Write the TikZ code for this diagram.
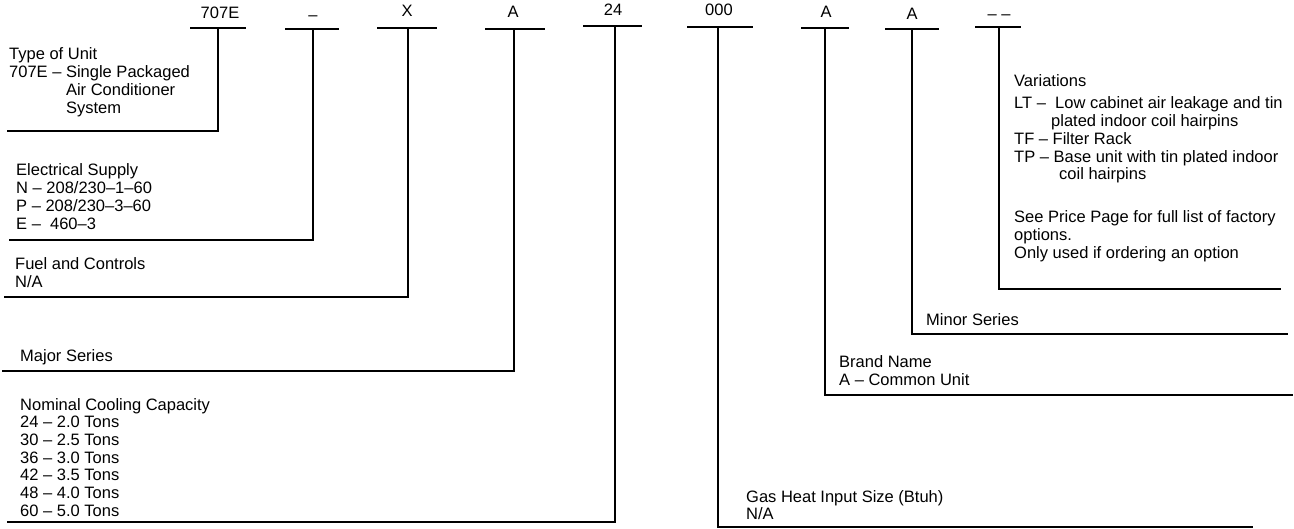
\documentclass[tikz,border=0pt]{standalone}
\usepackage{fontspec}
\setmainfont{Liberation Sans}
\usetikzlibrary{positioning}
\newcommand{\notelines}[1]{\begin{tabular}[t]{@{}l@{}}#1\end{tabular}}

\begin{document}
\begin{tikzpicture}[x=1pt, y=-1pt,
      code/.style={anchor=base, inner sep=0pt, font=\fontsize{16.5}{17.7}\selectfont},
      note/.style={anchor=base west, inner sep=0pt, font=\fontsize{16.5}{17.7}\selectfont},
      codebar/.style={line width=2.6pt},
      lead/.style={line width=2.4pt, line join=miter}]
      \useasboundingbox (0,0) rectangle (1294,529);
      % Type of unit: 707E
      \node[code] (c707) at (220,19) {707E};
      \draw[codebar] (190,28) -- (246,28);
      \coordinate (b707) at (218,28);
      \coordinate (k707) at (218,131);
      \coordinate (e707) at (7,131);
      \draw[lead] (b707) -- (k707) -- (e707);
      \node[note] (n707) at (9,60) {\notelines{Type of Unit\\
         707E – Single Packaged\\
         \phantom{707E – }Air Conditioner\\
         \phantom{707E – }System}};
      % Electrical supply: dash
      \node[code] (celec) at (313,21) {–};
      \draw[codebar] (285,29) -- (339,29);
      \coordinate (belec) at (313,29);
      \coordinate (kelec) at (313,240);
      \coordinate (eelec) at (9,240);
      \draw[lead] (belec) -- (kelec) -- (eelec);
      \node[note] (nelec) at (16,176) {\notelines{Electrical Supply\\
         N – 208/230–1–60\\
         P – 208/230–3–60\\
         E –\ \ 460–3}};
      % Fuel and controls: X
      \node[code] (cfuel) at (407,17) {X};
      \draw[codebar] (377,28) -- (437,28);
      \coordinate (bfuel) at (408,28);
      \coordinate (kfuel) at (408,297);
      \coordinate (efuel) at (4,297);
      \draw[lead] (bfuel) -- (kfuel) -- (efuel);
      \node[note] (nfuel) at (15,270) {\notelines{Fuel and Controls\\ N/A}};
      % Major series: A
      \node[code] (cmaj) at (513,18) {A};
      \draw[codebar] (485,29) -- (545,29);
      \coordinate (bmaj) at (514,29);
      \coordinate (kmaj) at (514,371);
      \coordinate (emaj) at (2,371);
      \draw[lead] (bmaj) -- (kmaj) -- (emaj);
      \node[note] (nmaj) at (20,362) {Major Series};
      % Nominal cooling capacity: 24
      \node[code] (ccap) at (613,16) {24};
      \draw[codebar] (583,26) -- (642,26);
      \coordinate (bcap) at (615,26);
      \coordinate (kcap) at (615,522);
      \coordinate (ecap) at (7,522);
      \draw[lead] (bcap) -- (kcap) -- (ecap);
      \node[note] (ncap) at (20,410) {\notelines{Nominal Cooling Capacity\\
         24 – 2.0 Tons\\ 30 – 2.5 Tons\\ 36 – 3.0 Tons\\
         42 – 3.5 Tons\\ 48 – 4.0 Tons\\ 60 – 5.0 Tons}};
      % Gas heat input size: 000
      \node[code] (cgas) at (719,16) {000};
      \draw[codebar] (687,27) -- (753,27);
      \coordinate (bgas) at (718,27);
      \coordinate (kgas) at (718,527);
      \coordinate (egas) at (1253,527);
      \draw[lead] (bgas) -- (kgas) -- (egas);
      \node[note] (ngas) at (746,502) {\notelines{Gas Heat Input Size (Btuh)\\ N/A}};
      % Brand name: A
      \node[code] (cbrand) at (826,18) {A};
      \draw[codebar] (801,28) -- (849,28);
      \coordinate (bbrand) at (825,28);
      \coordinate (kbrand) at (825,395);
      \coordinate (ebrand) at (1293,395);
      \draw[lead] (bbrand) -- (kbrand) -- (ebrand);
      \node[note] (nbrand) at (839,368) {\notelines{Brand Name\\ A – Common Unit}};
      % Minor series: A
      \node[code] (cmin) at (912,20) {A};
      \draw[codebar] (885,29) -- (939,29);
      \coordinate (bmin) at (912,29);
      \coordinate (kmin) at (912,334);
      \coordinate (emin) at (1288,334);
      \draw[lead] (bmin) -- (kmin) -- (emin);
      \node[note] (nmin) at (926,326) {Minor Series};
      % Variations: dash dash
      \node[code] (cvar) at (999,20) {– –};
      \draw[codebar] (975,27) -- (1021,27);
      \coordinate (bvar) at (999,27);
      \coordinate (kvar) at (999,289);
      \coordinate (evar) at (1281,289);
      \draw[lead] (bvar) -- (kvar) -- (evar);
      \node[note] (nvar) at (1014,87) {Variations};
      \node[note] (nopts) at (1014,109) {\notelines{LT –\ \ Low cabinet air leakage and tin\\
         \hspace*{37pt}plated indoor coil hairpins\\
         TF – Filter Rack\\
         TP – Base unit with tin plated indoor\\
         \hspace*{45pt}coil hairpins}};
      \node[note] (nsee) at (1014,223) {\notelines{See Price Page for full list of factory\\
         options.\\ Only used if ordering an option}};
   \end{tikzpicture}
\end{document}
